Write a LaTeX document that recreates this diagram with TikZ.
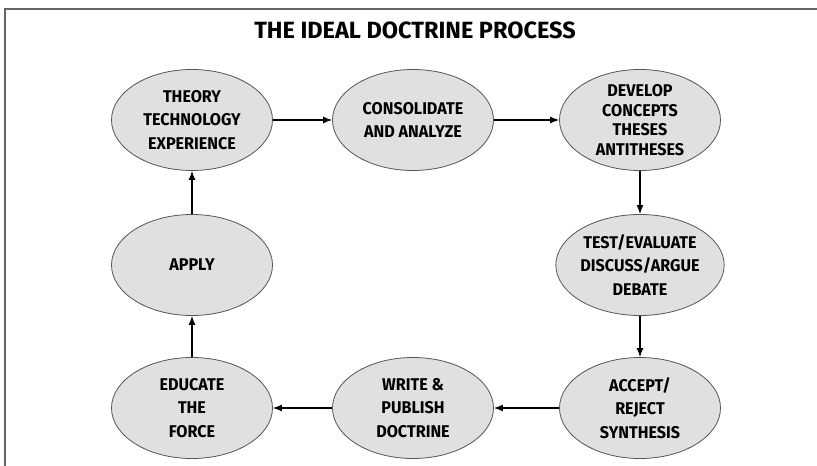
\documentclass[tikz,border=0pt]{standalone}
\usepackage{fontspec}
\setmainfont{Fira Sans}
\newfontfamily\stagefont[FakeStretch=0.95]{Fira Sans}
\usepackage{xcolor}
\usetikzlibrary{arrows.meta}
\usetikzlibrary{shapes.geometric}
\usetikzlibrary{math}
\definecolor{stepfill}{RGB}{224,224,224}
\definecolor{rimgray}{RGB}{85,85,85}
\definecolor{framegray}{RGB}{100,100,100}

\begin{document}
\begin{tikzpicture}[x=1pt,y=-1pt,
  stage/.style={ellipse, draw=rimgray, line width=0.8pt, fill=stepfill,
    minimum width=161pt, minimum height=101pt, inner sep=0pt,
    align=center, font=\stagefont\fontsize{17}{23.5}\selectfont\bfseries},
  flow/.style={-{Latex[length=9pt,width=7pt]}, line width=1.3pt, black}]
\tikzmath{
\xa=192; \xb=413; \xc=640;
\ya=120; \yb=265; \yc=408;
}
\useasboundingbox (0,0) rectangle (817,466);
%frame
\draw[framegray, line width=1.6pt] (5,466) -- (5,9) -- (817,9);
\node[font=\fontsize{23.5}{27}\selectfont\bfseries] (title) at (415,30) {THE IDEAL DOCTRINE PROCESS};

%stages
\node[stage] (theory) at (\xa,\ya) {THEORY\\TECHNOLOGY\\EXPERIENCE};
\node[stage] (consol) at (\xb,\ya) {CONSOLIDATE\\AND ANALYZE};
\node[stage] (develop) at (\xc,\ya) {DEVELOP\\[-4pt]CONCEPTS\\[-4pt]THESES\\[-4pt]ANTITHESES};
\node[stage] (test) at (\xc,\yb) {TEST/EVALUATE\\DISCUSS/ARGUE\\DEBATE};
\node[stage] (accept) at (\xc,\yc) {ACCEPT/\\REJECT\\SYNTHESIS};
\node[stage] (write) at (\xb,\yc) {WRITE \&\\PUBLISH\\DOCTRINE};
\node[stage] (educate) at (\xa,\yc) {EDUCATE\\THE\\FORCE};
\node[stage] (apply) at (\xa,\yb) {APPLY};

%cycle
\draw[flow] (theory) -- (consol);
\draw[flow] (consol) -- (develop);
\draw[flow] (develop) -- (test);
\draw[flow] (test) -- (accept);
\draw[flow] (accept) -- (write);
\draw[flow] (write) -- (educate);
\draw[flow] (educate) -- (apply);
\draw[flow] (apply) -- (theory);
\end{tikzpicture}
\end{document}
